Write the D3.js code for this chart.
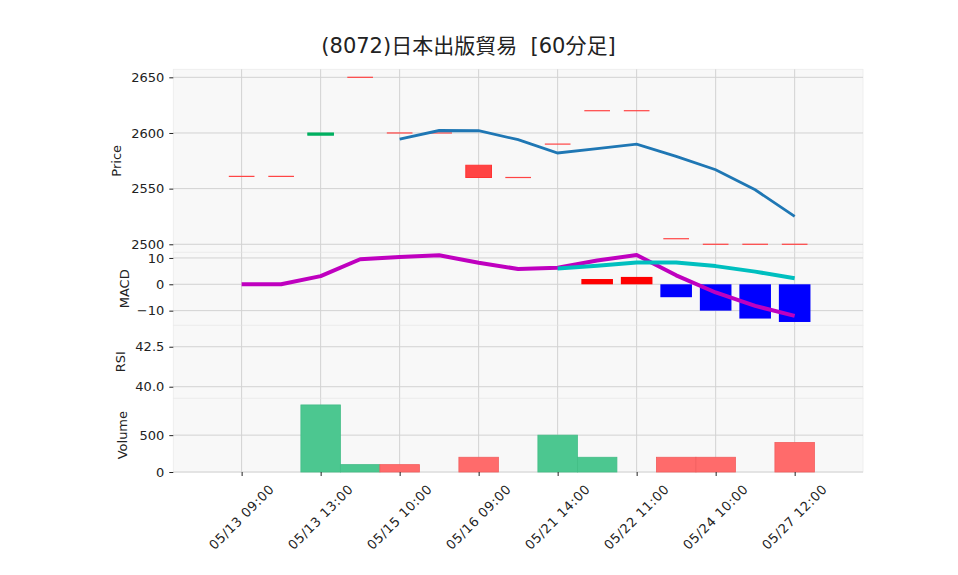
<!DOCTYPE html>
<html>
<head>
<meta charset="utf-8">
<script src="https://cdn.jsdelivr.net/npm/d3@7"></script>
<style>
  body { margin: 0; background: #fff; }
  text { font-family: "DejaVu Sans", sans-serif; fill: #222; }
</style>
</head>
<body>
<script>
// ---- data ----
const title = "(8072)日本出版貿易  [60分足]";
const tickIdx = [0, 2, 4, 6, 8, 10, 12, 14];
const tickLabels = ["05/13 09:00", "05/13 13:00", "05/15 10:00", "05/16 09:00",
                    "05/21 14:00", "05/22 11:00", "05/24 10:00", "05/27 12:00"];

const opens  = [2561, 2561, 2598, 2650, 2600, 2600, 2571, 2560, 2590, 2620, 2620, 2505, 2500, 2500, 2500];
const closes = [2561, 2561, 2600, 2650, 2600, 2600, 2560, 2560, 2590, 2620, 2620, 2505, 2500, 2500, 2500];
const volumes = [0, 0, 910, 100, 100, 0, 200, 0, 500, 200, 0, 200, 200, 0, 400];
const mav5 = [null, null, null, null, 2594.4, 2602.2, 2602, 2594, 2582, 2586, 2590, 2579, 2567, 2549, 2525];

const macd   = [0, 0, 3.1, 9.5, 10.4, 11.0, 8.2, 5.8, 6.3, 9.0, 11.1, 3.4, -3.1, -8.2, -12.0];
const signal = [null, null, null, null, null, null, null, null, 6.0, 7.0, 8.3, 8.3, 6.9, 4.8, 2.3];
const hist   = [null, null, null, null, null, null, null, null, null, 2.0, 2.8, -4.9, -10.0, -13.0, -14.3];

const priceTicks = [2500, 2550, 2600, 2650];
const macdTicks = [-10, 0, 10];
const rsiTicks = [40.0, 42.5];
const volTicks = [0, 500];

// ---- layout ----
const W = 958, H = 575;
const left = 173.3, right = 863;

const svg = d3.select("body").append("svg")
    .attr("width", W)
    .attr("height", H);

const x = d3.scaleLinear().domain([-1.73, 15.73]).range([left, right]);
const step = x(1) - x(0);

const panels = [
  {name: "price", top: 69.3, bottom: 252.3, domain: [2492.8, 2657.2], ticks: priceTicks, label: "Price", lx: 116, fmt: d3.format("d")},
  {name: "macd", top: 252.3, bottom: 325.3, domain: [-15.56, 12.14], ticks: macdTicks, label: "MACD", lx: 124, fmt: d => d < 0 ? "\u2212" + Math.abs(d) : d},
  {name: "rsi", top: 325.3, bottom: 398.3, domain: [39.275, 43.84], ticks: rsiTicks, label: "RSI", lx: 120, fmt: d3.format(".1f")},
  {name: "vol", top: 398.3, bottom: 472, domain: [0, 1000], ticks: volTicks, label: "Volume", lx: 122, fmt: d3.format("d")}
];

const y = {};
panels.forEach(p => {
  y[p.name] = d3.scaleLinear().domain(p.domain).range([p.bottom, p.top]);
  let g = svg.append("g");

  g.append("rect")
      .attr("x", left).attr("y", p.top)
      .attr("width", right - left).attr("height", p.bottom - p.top)
      .attr("fill", "#f8f8f8")
      .attr("stroke", "#ececec").attr("stroke-width", 0.8);

  //grid
  g.selectAll(".hg").data(p.ticks).enter().append("line")
      .attr("x1", left).attr("x2", right)
      .attr("y1", d => y[p.name](d)).attr("y2", d => y[p.name](d))
      .attr("stroke", "#d2d2d2").attr("stroke-width", 1);
  g.selectAll(".vg").data(tickIdx).enter().append("line")
      .attr("x1", d => x(d)).attr("x2", d => x(d))
      .attr("y1", p.top).attr("y2", p.bottom)
      .attr("stroke", "#d2d2d2").attr("stroke-width", 1);

  //y axis
  let ax = g.append("g")
      .attr("transform", "translate(" + left + ",0)")
      .call(d3.axisLeft(y[p.name]).tickValues(p.ticks).tickSize(4).tickPadding(5).tickFormat(p.fmt));
  ax.select(".domain").remove();
  ax.selectAll("text").style("font-size", "13px").attr("fill", "#222");
  ax.selectAll("line").attr("stroke", "#222");

  svg.append("text")
      .attr("transform", "translate(" + p.lx + "," + ((p.top + p.bottom) / 2) + ") rotate(-90)")
      .attr("text-anchor", "middle")
      .attr("dominant-baseline", "central")
      .style("font-size", "13px")
      .text(p.label);
});

// ---- price panel ----
const yp = y.price;
const candleW = step * 0.65;
svg.append("g").selectAll("rect").data(opens).enter().append("rect")
    .attr("x", (d, i) => x(i) - candleW / 2)
    .attr("y", (d, i) => {
      let h = Math.abs(yp(d) - yp(closes[i]));
      return h < 1.2 ? yp(Math.max(d, closes[i])) - 0.6 : yp(Math.max(d, closes[i]));
    })
    .attr("width", candleW)
    .attr("height", (d, i) => Math.max(1.2, Math.abs(yp(d) - yp(closes[i]))))
    .attr("fill", (d, i) => closes[i] > d ? "#00b060" : "#ff4444")
    .attr("stroke", (d, i) => closes[i] > d ? "#00b060" : "#ff3333")
    .attr("stroke-width", (d, i) => d === closes[i] ? 0 : 1);

const mavLine = d3.line()
    .defined(d => d != null)
    .x((d, i) => x(i))
    .y(d => yp(d));
svg.append("path")
    .datum(mav5)
    .attr("d", mavLine)
    .attr("fill", "none")
    .attr("stroke", "#1f77b4")
    .attr("stroke-width", 2.8);

// ---- macd panel ----
const ym = y.macd;
const barW = step * 0.8;
const histPts = hist.map((v, i) => ({i: i, v: v})).filter(d => d.v != null);
svg.append("g").selectAll("rect").data(histPts).enter().append("rect")
    .attr("x", d => x(d.i) - barW / 2)
    .attr("y", d => ym(Math.max(0, d.v)))
    .attr("width", barW)
    .attr("height", d => Math.abs(ym(d.v) - ym(0)))
    .attr("fill", d => d.v >= 0 ? "#ff0000" : "#0000ff");

const lineM = d3.line()
    .defined(d => d != null)
    .x((d, i) => x(i))
    .y(d => ym(d));
svg.append("path").datum(macd).attr("d", lineM)
    .attr("fill", "none").attr("stroke", "#bf00bf").attr("stroke-width", 4)
    .attr("stroke-linejoin", "round");
svg.append("path").datum(signal).attr("d", lineM)
    .attr("fill", "none").attr("stroke", "#00bfbf").attr("stroke-width", 4)
    .attr("stroke-linejoin", "round");

// ---- volume panel ----
const yv = y.vol;
svg.append("g").selectAll("rect").data(volumes).enter().append("rect")
    .attr("x", (d, i) => x(i) - step / 2)
    .attr("y", d => yv(d))
    .attr("width", step)
    .attr("height", d => yv(0) - yv(d))
    .attr("fill", (d, i) => i > 0 && closes[i] > closes[i - 1] ? "#4cc790" : "#ff6b6b")
    .attr("stroke", (d, i) => i > 0 && closes[i] > closes[i - 1] ? "#43bd86" : "#f25e5e")
    .attr("stroke-width", d => d > 0 ? 0.8 : 0);

// ---- x axis ----
let xa = svg.append("g")
    .attr("transform", "translate(0," + 472 + ")")
    .call(d3.axisBottom(x).tickValues(tickIdx).tickSize(4).tickFormat(""));
xa.select(".domain").remove();
xa.selectAll("line").attr("stroke", "#222");

svg.append("g").selectAll("text").data(tickLabels).enter().append("text")
    .attr("transform", (d, i) => "translate(" + x(tickIdx[i]) + ",517) rotate(-45)")
    .attr("text-anchor", "middle")
    .attr("dominant-baseline", "central")
    .style("font-size", "13px")
    .style("letter-spacing", "0.6px")
    .text(d => d);

// ---- title ----
svg.append("text")
    .attr("x", 468.5)
    .attr("y", 53)
    .attr("text-anchor", "middle")
    .style("font-family", "'DejaVu Sans', 'Noto Sans CJK JP', sans-serif")
    .style("font-size", "21px")
    .style("white-space", "pre")
    .attr("xml:space", "preserve")
    .text(title);
</script>
</body>
</html>
